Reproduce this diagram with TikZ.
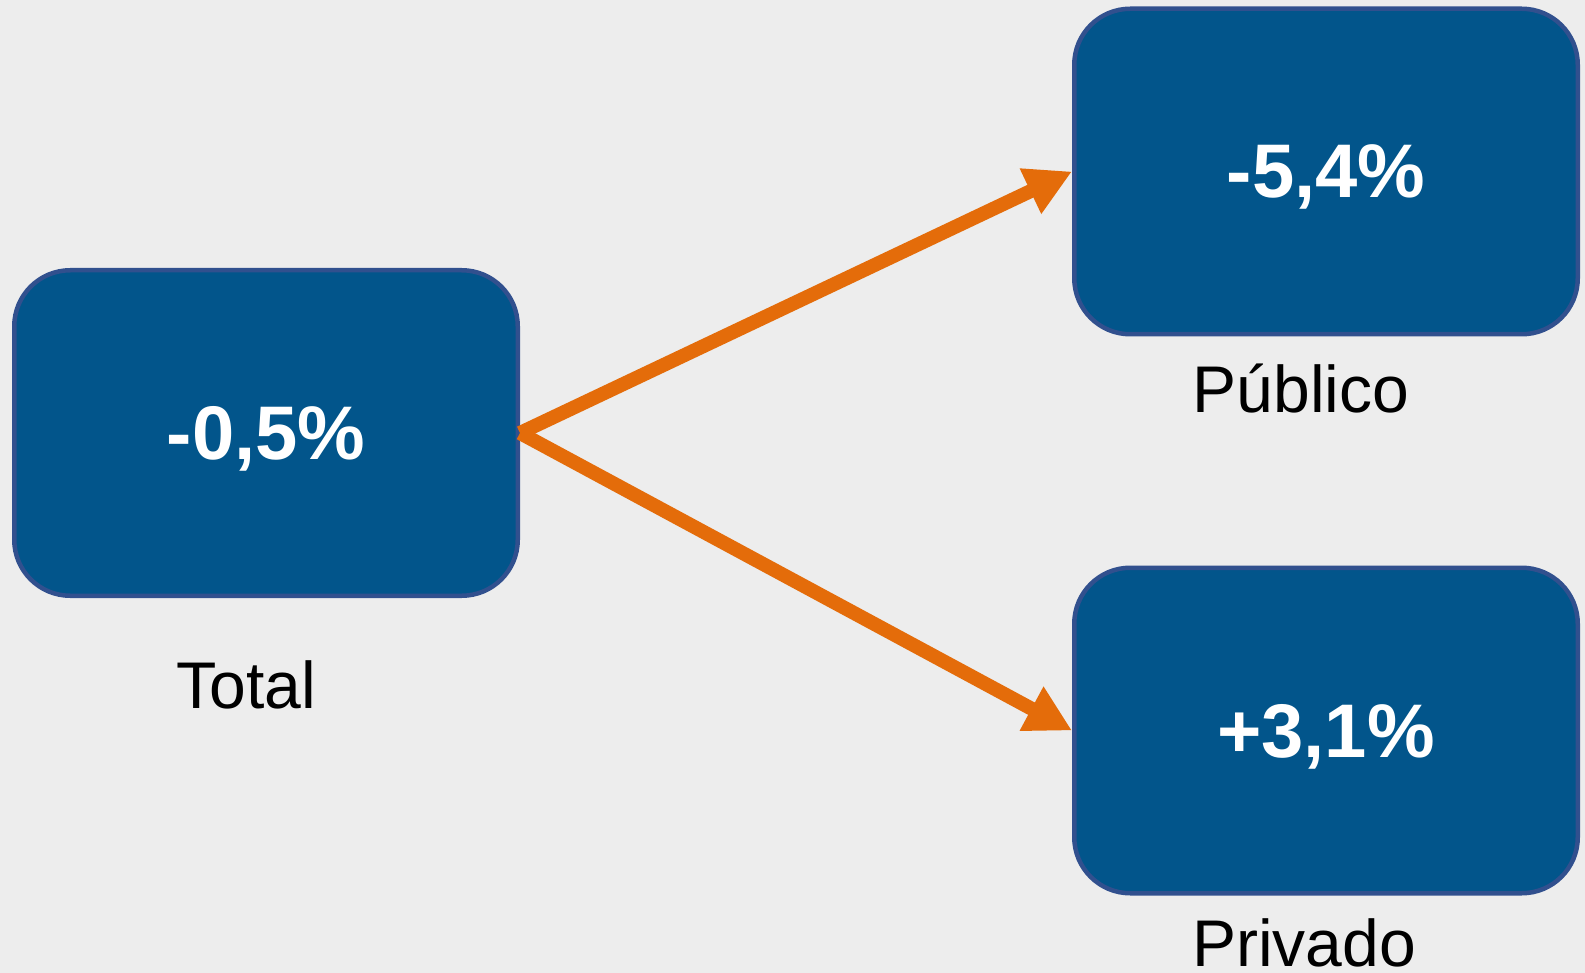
\documentclass[tikz,border=0pt]{standalone}
\usepackage{fontspec}
\setmainfont{Liberation Sans}
\usetikzlibrary{arrows.meta}
\definecolor{bg}{HTML}{EDEDED}
\definecolor{boxfill}{HTML}{02558B}
\definecolor{boxline}{HTML}{31508E}
\definecolor{arr}{HTML}{E46C0A}
\tikzset{
  valbox/.style={draw=boxline, line width=2.25pt, fill=boxfill, rounded corners=28pt,
    minimum width=251.75pt, minimum height=162.75pt, text=white,
    font=\fontsize{38pt}{44pt}\selectfont\bfseries, text depth=-3pt, inner sep=0pt},
  lbl/.style={anchor=base, text=black, font=\fontsize{33pt}{38pt}\selectfont, inner sep=0pt},
  conn/.style={draw=arr, line width=7pt,
    -{Triangle[length=23pt,width=23.5pt]}}
}
\begin{document}
\begin{tikzpicture}[x=0.5pt,y=-0.5pt]
\fill[bg] (0,0) rectangle (1585,973);
\useasboundingbox (0,0) rectangle (1585,973);
\node[valbox] (t) at (266,433) {-0,5\%};
\node[valbox] (p) at (1326,171.5) {-5,4\%};
\node[valbox] (v) at (1326,730.5) {+3,1\%};
\node[lbl] (lt) at (246,708) {Total};
\node[lbl] (lp) at (1301,412) {Público};
\node[lbl] (lv) at (1304,966) {Privado};
\draw[conn] (t.east) -- (p.west);
\draw[conn] (t.east) -- (v.west);
\end{tikzpicture}
\end{document}
